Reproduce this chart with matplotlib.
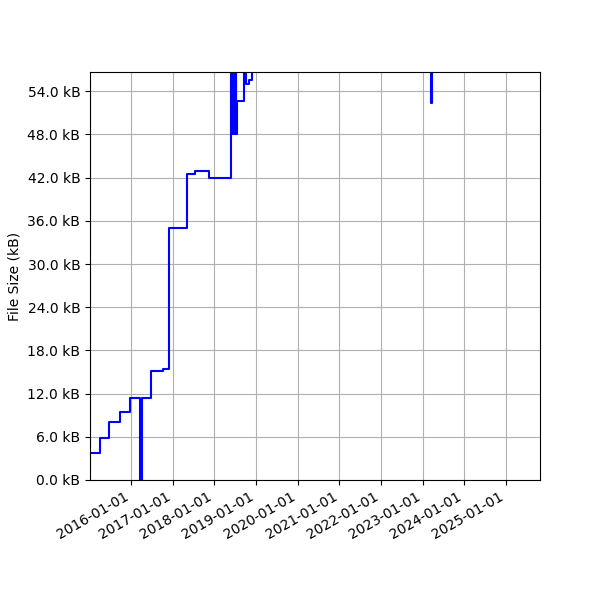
import matplotlib
matplotlib.use("Agg")
import matplotlib.pyplot as plt
import matplotlib.dates as mdates
from matplotlib.ticker import FuncFormatter, MultipleLocator
import numpy as np
import datetime as dt

dates = [
    "2015-01-05", "2015-04-01", "2015-06-24", "2015-09-24", "2015-12-18",
    "2016-03-23", "2016-04-01", "2016-06-26", "2016-10-10", "2016-12-01",
    "2017-05-05", "2017-07-14", "2017-11-14",
    "2018-05-29", "2018-06-02", "2018-06-06", "2018-06-10", "2018-06-14",
    "2018-06-18", "2018-06-22", "2018-06-26", "2018-06-30", "2018-07-04",
    "2018-07-08", "2018-07-12", "2018-07-16",
    "2018-09-17", "2018-10-02", "2018-11-03", "2018-11-23",
    "2020-06-01", "2022-01-10", "2023-03-17", "2023-03-21", "2025-10-27",
]
sizes_kb = [
    3.8, 5.9, 8.05, 9.4, 11.4,
    0.0, 11.4, 15.2, 15.4, 34.95,
    42.45, 42.9, 41.9,
    60.0, 48.1, 60.0, 48.1, 60.0,
    48.1, 60.0, 48.1, 60.0, 48.1,
    60.0, 48.1, 52.7,
    60.0, 55.0, 55.6, 60.0,
    62.0, 64.0, 52.3, 66.0, 66.0,
]

x = [dt.datetime.strptime(d, "%Y-%m-%d") for d in dates]

fig = plt.figure(figsize=(6, 6), dpi=100)
ax = fig.add_subplot(111)
fig.subplots_adjust(left=0.15, right=0.9, top=0.88, bottom=0.2)

ax.plot(x, sizes_kb, color="blue", linewidth=1.5, drawstyle="steps-post")

ax.set_xlim(dt.datetime(2015, 1, 5), dt.datetime(2025, 10, 27))
ax.set_ylim(0, 56.67)
ax.yaxis.set_major_locator(MultipleLocator(6))
ax.yaxis.set_major_formatter(FuncFormatter(lambda v, p: f"{v:.1f} kB"))
ax.xaxis.set_major_locator(mdates.YearLocator())
ax.xaxis.set_major_formatter(mdates.DateFormatter("%Y-%m-%d"))
ax.set_ylabel("File Size (kB)")
ax.grid(True)
for lbl in ax.get_xticklabels():
    lbl.set_rotation(30)
    lbl.set_ha("right")

fig.savefig("out.png", dpi=100)
